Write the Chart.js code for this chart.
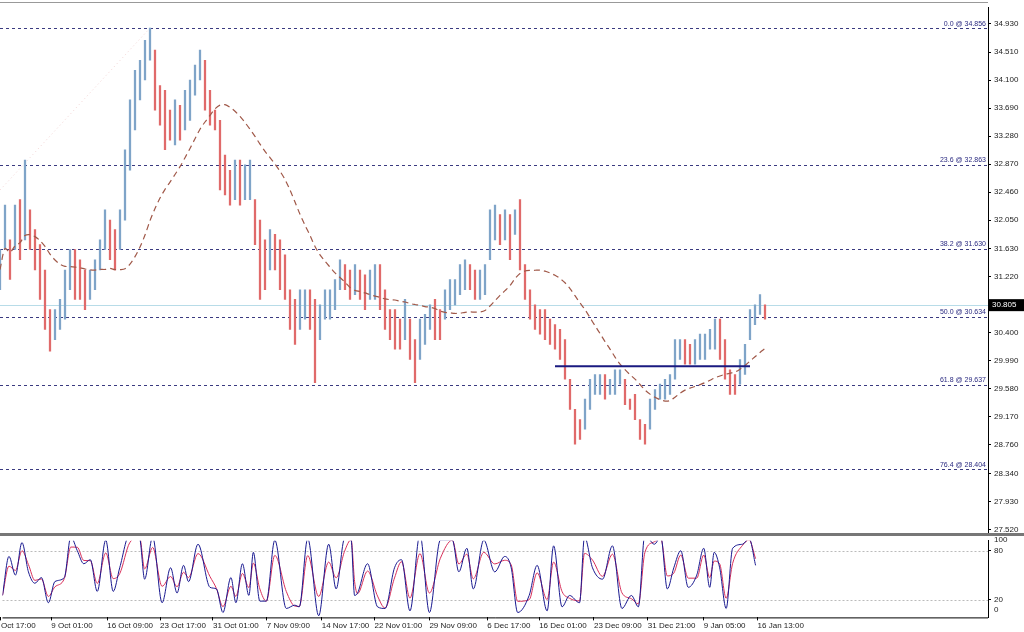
<!DOCTYPE html>
<html><head><meta charset="utf-8">
<script src="https://cdn.jsdelivr.net/npm/chart.js@4.4.0/dist/chart.umd.min.js"></script>
<style>
html,body{margin:0;padding:0;background:#fff;width:1024px;height:632px;overflow:hidden}
#a{position:absolute;left:0;top:0;width:1024px;height:540px}
#b{position:absolute;left:0;top:533px;width:1024px;height:99px;background:#fff}
</style></head><body>
<div id="a"><canvas id="c1"></canvas></div>
<div id="b"><canvas id="c2"></canvas></div>
<script>
const highs=[31.62,32.27,31.76,32.27,32.35,32.93,32.20,31.91,31.69,31.32,30.74,30.74,30.89,31.32,31.62,31.62,31.47,31.32,31.32,31.47,31.76,32.20,32.05,31.91,32.20,33.08,33.81,34.24,34.39,34.68,34.86,34.54,34.02,33.95,33.66,33.81,33.73,33.95,34.10,34.32,34.54,34.39,33.95,33.66,33.51,33.00,32.78,32.93,32.93,32.86,32.93,32.35,32.05,31.76,31.91,31.84,31.76,31.54,31.03,30.89,31.03,31.03,31.03,30.89,30.81,31.03,31.03,31.18,31.47,31.40,31.32,31.40,31.32,31.25,31.32,31.40,31.40,31.03,30.74,30.74,30.60,30.89,30.60,30.30,30.60,30.67,30.81,30.89,30.74,31.03,31.18,31.18,31.40,31.47,31.40,31.32,31.32,31.40,32.20,32.27,32.13,32.20,32.13,32.20,32.35,31.40,31.03,30.81,30.74,30.74,30.60,30.52,30.45,30.30,29.72,29.28,29.13,29.43,29.72,29.79,29.79,29.79,29.72,29.86,29.86,29.72,29.43,29.50,29.13,29.06,29.43,29.57,29.65,29.72,29.79,30.30,30.30,30.30,30.23,30.30,30.38,30.38,30.45,30.60,30.60,30.30,29.86,29.79,30.01,30.23,30.74,30.81,30.96,30.81];
const lows=[31.03,31.62,31.18,31.62,31.47,31.76,31.62,31.32,30.89,30.45,30.13,30.30,30.45,30.60,31.03,30.89,30.89,30.74,30.89,31.03,31.32,31.62,31.47,31.32,31.62,32.05,32.78,33.37,33.81,34.10,34.39,33.66,33.44,33.08,33.22,33.15,33.22,33.37,33.51,33.88,34.10,33.66,33.44,33.37,32.49,32.42,32.27,32.35,32.27,32.35,32.35,31.69,30.89,31.03,31.32,31.32,31.03,30.89,30.45,30.23,30.45,30.60,30.45,29.67,30.30,30.60,30.60,30.74,31.03,31.03,30.89,30.96,30.89,30.74,30.89,30.89,30.74,30.45,30.30,30.16,30.16,30.30,30.01,29.67,30.01,30.23,30.45,30.30,30.30,30.60,30.74,30.81,30.96,31.03,31.03,30.89,30.89,30.96,31.47,31.76,31.69,31.76,31.47,31.84,31.32,30.89,30.60,30.45,30.38,30.30,30.23,30.16,30.01,29.72,29.28,28.77,28.84,28.99,29.28,29.50,29.50,29.43,29.50,29.50,29.65,29.35,29.28,29.13,28.84,28.77,28.99,29.28,29.43,29.43,29.50,29.72,30.01,29.94,29.94,29.94,30.01,30.01,30.16,30.16,30.01,29.72,29.50,29.50,29.65,29.79,30.30,30.52,30.67,30.60];
const stochBar=[0,1.3,2.6,3.9,5.2,6.5,7.8,9.2,10.5,12.4,13.7,15.0,16.3,17.6,19.0,20.7,22.2,23.5,25.5,27.5,28.5,30.1,32.0,33.7,35.0,36.3,37.3,39.2,41.6,42.9,44.2,45.8,46.8,48.1,49.4,50.3,51.6,52.9,54.6,56.9,58.6,59.5,61.2,63.4,65.4,66.9,68.6,69.9,70.6,71.2,73.2,75.2,76.7,78.6,80.0,81.7,83.7,85.6,87.8,90.2,91.5,93.1,94.4,96.5,98.7,100.7,102.0,103.3,105.6,107.2,109.2,110.5,112.2,113.7,115.7,116.7,118.3,120.3,122.3,124.2,126.1,127.5,128.8,130.7,132.0,133.3,134.6,136.0,137.5,139.2,140.6,141.8,142.7,143.8,145.1,146.4,148.4,149.7,151.0,152.7];
const stochK=[25,73,50,90,54,40,47,16,42,47,97,80,64,69,30,93,30,59,100,95,45,97,16,59,28,62,42,88,35,33,4,47,16,64,25,78,18,18,93,9,13,11,95,0,88,33,95,93,25,28,64,11,9,59,69,6,100,4,93,93,54,83,33,93,54,73,59,4,25,62,6,86,11,25,16,97,59,45,86,9,25,11,100,88,97,33,59,80,35,50,83,35,78,59,9,83,88,95,62];
const priceTicks=[27.52,27.93,28.34,28.76,29.17,29.58,29.99,30.40,30.805,31.22,31.63,32.05,32.46,32.87,33.28,33.69,34.10,34.51,34.93];
const fibLevels=[34.856,32.863,31.630,30.634,29.637,28.404];
const fibNames=['0.0 @ 34.856','23.6 @ 32.863','38.2 @ 31.630','50.0 @ 30.634','61.8 @ 29.637','76.4 @ 28.404'];
const lastPrice=30.805;
const supportLevel=29.91, supportFrom=111, supportTo=150;
const trendLine=[{x:0,y:32.49},{x:30,y:34.86}];
const dateIdx=[-0.3,9.8,21,31.6,42.2,53,64,74.6,85.6,97.2,107.6,118.6,129.4,140.6,151.4];
const dateLabels=['Oct 17:00','9 Oct 01:00','16 Oct 09:00','23 Oct 17:00','31 Oct 01:00','7 Nov 09:00','14 Nov 17:00','22 Nov 01:00','29 Nov 09:00','6 Dec 17:00','16 Dec 01:00','23 Dec 09:00','31 Dec 21:00','9 Jan 05:00','16 Jan 13:00'];
const stochTicks=[20,80];

const mids=highs.map((h,i)=>(h+lows[i])/2);
const ma=mids.map((m,i)=>{const s=mids.slice(Math.max(0,i-19),i+1);return s.reduce((a,b)=>a+b,0)/s.length;});
const barData=highs.map((h,i)=>({x:i,y:[lows[i],h]}));
const barCol=mids.map((m,i)=>i>0&&m<mids[i-1]?'#e06a6a':'#7fa4c8');
const stochD=stochK.map((v,i)=>i>0?0.75*v+0.25*stochK[i-1]:v);
const FONT={family:'Liberation Sans',size:8};
const XMIN=0,XMAX=197.6;

const frame={id:'frame',afterDraw(c){const a=c.chartArea,x=c.ctx;x.save();x.strokeStyle='#000';x.lineWidth=1;
 x.beginPath();x.moveTo(a.right+0.5,a.top);x.lineTo(a.right+0.5,a.bottom);x.stroke();x.restore();}};
const fibs={id:'fibs',beforeDatasetsDraw(c){const a=c.chartArea,x=c.ctx,y=c.scales.y;x.save();
 x.setLineDash([3,3]);x.strokeStyle='#3a3a80';x.lineWidth=1;
 fibLevels.forEach(v=>{const p=Math.round(y.getPixelForValue(v))+0.5;x.beginPath();x.moveTo(a.left,p);x.lineTo(a.right,p);x.stroke();});
 x.setLineDash([]);x.strokeStyle='#b8dce8';const q=Math.round(y.getPixelForValue(lastPrice))+0.5;x.beginPath();x.moveTo(a.left,q);x.lineTo(a.right,q);x.stroke();
 x.font='7px Liberation Sans';x.fillStyle='#2a2a80';x.textAlign='right';x.textBaseline='bottom';
 fibLevels.forEach((v,i)=>x.fillText(fibNames[i],a.right-2,y.getPixelForValue(v)-1));
 x.restore();},
 afterDraw(c){const a=c.chartArea,x=c.ctx,y=c.scales.y;x.save();const q=y.getPixelForValue(lastPrice);
 x.fillStyle='#000';x.fillRect(a.right+1,q-6,35,12);x.fillStyle='#fff';x.font='8px Liberation Sans';x.textBaseline='middle';x.fillText('30.805',a.right+4,q);
 x.strokeStyle='#999';x.lineWidth=1;x.beginPath();x.moveTo(0,2.5);x.lineTo(a.right,2.5);x.stroke();x.restore();}};

new Chart(document.getElementById('c1'),{type:'bar',
 data:{datasets:[
  {type:'line',data:trendLine,borderColor:'rgba(230,170,170,0.5)',borderWidth:1,borderDash:[1,3],pointRadius:0,order:5},
  {data:barData,backgroundColor:barCol,barThickness:1.6,grouped:false,order:3},
  {type:'line',data:ma.map((v,i)=>({x:i,y:v})),borderColor:'#a05848',borderWidth:1.2,borderDash:[6,4],pointRadius:0,tension:0.3,order:2},
  {type:'line',data:[{x:supportFrom,y:supportLevel},{x:supportTo,y:supportLevel}],borderColor:'#1a1a80',borderWidth:2,pointRadius:0,order:1}
 ]},
 options:{animation:false,responsive:true,maintainAspectRatio:false,layout:{padding:{top:3,bottom:2,left:0,right:0}},
  plugins:{legend:{display:false},tooltip:{enabled:false}},
  scales:{x:{type:'linear',min:XMIN,max:XMAX,display:false,offset:false},
   y:{position:'right',min:27.482,max:35.157,afterFit(s){s.width=36;},
    afterBuildTicks(s){s.ticks=priceTicks.filter(v=>v!==lastPrice).map(v=>({value:v}));},
    ticks:{font:FONT,color:'#222',padding:3,callback:v=>v.toFixed(3)},
    grid:{display:true,drawOnChartArea:false,tickLength:3,color:'#000'},border:{color:'#000'}}}},
 plugins:[fibs,frame]});

const sfr={id:'sfr',beforeDatasetsDraw(c){const a=c.chartArea,x=c.ctx,y=c.scales.y;x.save();
 x.setLineDash([2,2]);x.strokeStyle='#bbb';x.lineWidth=1;
 [20,80].forEach(v=>{const p=Math.round(y.getPixelForValue(v))+0.5;x.beginPath();x.moveTo(a.left,p);x.lineTo(a.right,p);x.stroke();});
 x.setLineDash([]);x.strokeStyle='#777';x.lineWidth=3;x.beginPath();x.moveTo(0,1.5);x.lineTo(a.right+36,1.5);x.stroke();
 x.strokeStyle='#000';x.lineWidth=1;x.beginPath();x.moveTo(a.left,a.bottom+0.5);x.lineTo(a.right,a.bottom+0.5);x.stroke();
 x.font='8px Liberation Sans';x.fillStyle='#222';x.textBaseline='middle';
 x.fillText('100',a.right+6,7);x.fillText('0',a.right+6,77);
 x.restore();}};
new Chart(document.getElementById('c2'),{type:'line',
 data:{datasets:[
  {data:stochK.map((v,i)=>({x:stochBar[i],y:v})),borderColor:'#1a1a90',borderWidth:1,pointRadius:0,cubicInterpolationMode:'monotone'},
  {data:stochD.map((v,i)=>({x:stochBar[i],y:v})),borderColor:'#d8305a',borderWidth:1,pointRadius:0,cubicInterpolationMode:'monotone'}
 ]},
 options:{animation:false,responsive:true,maintainAspectRatio:false,layout:{padding:{top:3,bottom:0}},
  plugins:{legend:{display:false},tooltip:{enabled:false}},
  scales:{x:{type:'linear',min:XMIN,max:XMAX,
    afterBuildTicks(s){s.ticks=dateIdx.map(v=>({value:v}));},
    ticks:{font:FONT,color:'#222',maxRotation:0,autoSkip:false,align:'start',padding:1,callback:(v,i)=>dateLabels[i]},
    grid:{drawOnChartArea:false,tickLength:3,color:'#000'},border:{display:false}},
   y:{position:'right',min:-2,max:92.2,afterFit(s){s.width=36;},
    afterBuildTicks(s){s.ticks=stochTicks.map(v=>({value:v}));},
    ticks:{font:FONT,color:'#222',padding:3},
    grid:{drawOnChartArea:false,tickLength:3,color:'#000'},border:{color:'#000'}}}},
 plugins:[sfr,frame]});
</script></body></html>
